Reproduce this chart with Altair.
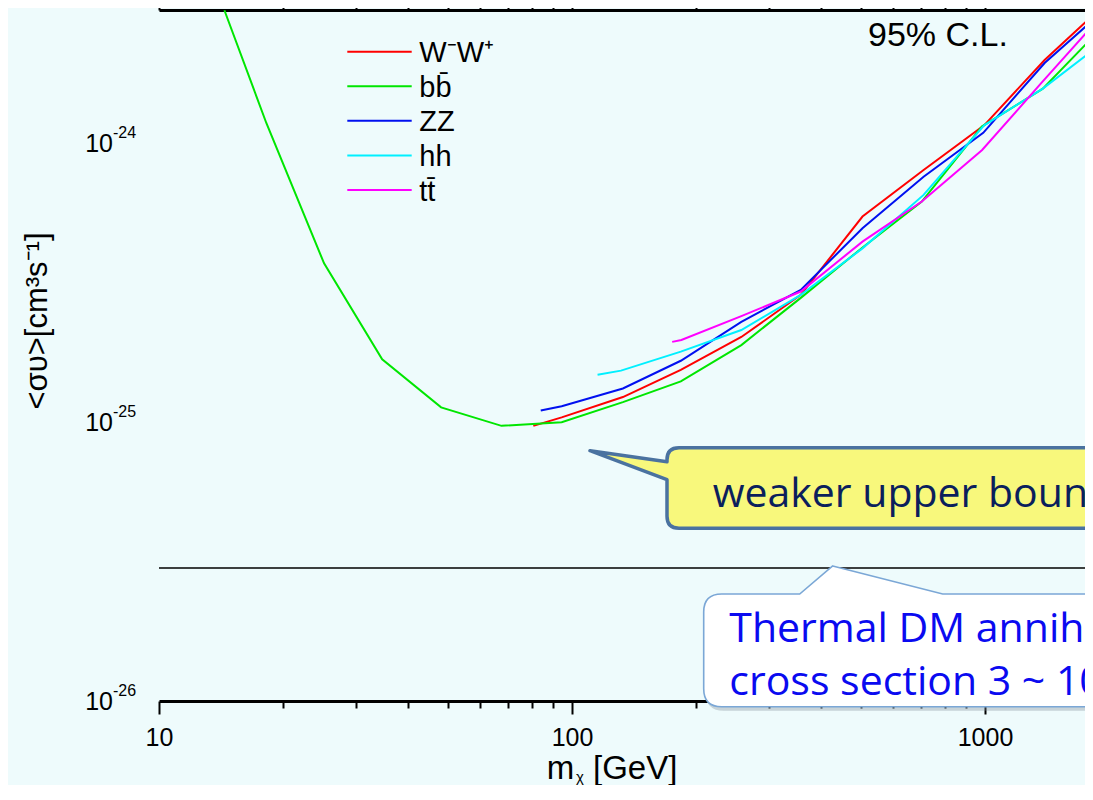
import altair as alt
import pandas as pd

# ---------------- data ----------------
series_names = ["W\u207bW\u207a", "bb\u0304", "ZZ", "hh", "tt\u0304"]
series_colors = ["#FF0000", "#00E600", "#0010F0", "#00F0FF", "#FF00FF"]

ww_m = [80.6, 94.4, 132.8, 183.4, 257, 358, 505, 710, 995, 1394, 1826]
ww_sv = [9.7e-26, 1.04e-25, 1.23e-25, 1.54e-25, 2.02e-25, 2.86e-25, 5.46e-25, 8.02e-25, 1.16e-24, 1.99e-24, 2.88e-24]

bb_m = [14.4, 18.2, 25.1, 34.7, 48.2, 67.5, 94.4, 132.8, 183.4, 257, 358, 507, 703, 984, 1380, 1826]
bb_sv = [3.0e-24, 1.18e-24, 3.71e-25, 1.68e-25, 1.13e-25, 9.7e-26, 1.0e-25, 1.18e-25, 1.40e-25, 1.89e-25,
         2.79e-25, 4.25e-25, 6.18e-25, 1.15e-24, 1.57e-24, 2.41e-24]

zz_m = [84.0, 94.4, 132.8, 183.4, 257, 358, 505, 710, 990, 1394, 1826]
zz_sv = [1.10e-25, 1.14e-25, 1.32e-25, 1.66e-25, 2.29e-25, 2.98e-25, 4.96e-25, 7.59e-25, 1.09e-24, 1.94e-24, 2.77e-24]

hh_m = [115.3, 131.4, 183.4, 257, 358, 505, 710, 995, 1380, 1826]
hh_sv = [1.48e-25, 1.53e-25, 1.79e-25, 2.14e-25, 2.86e-25, 4.20e-25, 6.53e-25, 1.16e-24, 1.57e-24, 2.16e-24]

tt_m = [174.8, 184, 257, 358, 505, 703, 984, 1366, 1826]
tt_sv = [1.94e-25, 1.97e-25, 2.40e-25, 2.94e-25, 4.44e-25, 6.18e-25, 9.46e-25, 1.64e-24, 2.65e-24]

thermal_sv = [3e-26]

x_domain = [10, 1746]
y_domain = [1e-26, 3.006e-24]

decade_vals = [1e-26, 1e-25, 1e-24]
decade_base = ["10", "10", "10"]
decade_exps = ["-26", "-25", "-24"]

x_ticks = [k * 10 ** e for e in (1, 2) for k in range(1, 10)] + [1000]
y_ticks = [k * 10.0 ** e for e in (-26, -25) for k in range(1, 10)] + [1e-24, 2e-24, 3e-24]

cl_text = ["95% C.L."]
yellow_text = ["weaker upper bound"]
white_text = ["Thermal DM annihilation\ncross section 3 ~ 10"]
y_title = ["<\u03c3\u03c5>[cm\u00b3s\u207b\u00b9]"]
x_title_m = ["m"]
x_title_sub = ["\u03c7"]
x_title_unit = ["[GeV]"]

# ---------------- build tables ----------------
rows = []
for name, ms, svs in zip(series_names, [ww_m, bb_m, zz_m, hh_m, tt_m], [ww_sv, bb_sv, zz_sv, hh_sv, tt_sv]):
    for m, s in zip(ms, svs):
        rows.append({"series": name, "m": m, "sv": s})
df = pd.DataFrame(rows)
dec_df = pd.DataFrame({"v": decade_vals, "b": decade_base, "t": decade_exps})
leg_df = pd.DataFrame({"series": series_names})

BG = "#EEFBFC"
FONT = "Liberation Sans"
CAL = "Open Sans"

xscale = alt.Scale(type="log", domain=x_domain, nice=False)
yscale = alt.Scale(type="log", domain=y_domain, nice=False)
cscale = alt.Scale(domain=series_names, range=series_colors)

major = "abs(log(datum.value)/LN10 - round(log(datum.value)/LN10)) < 0.001"

x_axis = alt.Axis(orient="bottom", values=x_ticks, title=None, format="d",
                  labelExpr=f"({major}) ? datum.label : ''",
                  labelFont=FONT, labelFontSize=25, labelColor="black",
                  labelPadding=11, labelFlush=False, labelOverlap=False, grid=False,
                  domainColor="black", domainWidth=3, tickColor="black", tickWidth=2,
                  tickSize={"condition": {"test": major, "value": 13}, "value": 7})
x_axis_top = alt.Axis(orient="top", values=x_ticks, title=None, labels=False, grid=False,
                      domainColor="black", domainWidth=3, tickColor="black", tickWidth=2,
                      tickSize={"condition": {"test": major, "value": 13}, "value": 7})
y_axis = alt.Axis(orient="left", values=y_ticks, title=None, labels=False, grid=False,
                  domainColor="black", domainWidth=3, tickColor="black", tickWidth=2,
                  tickSize={"condition": {"test": major, "value": 14}, "value": 8})

lines = alt.Chart(df).mark_line(strokeWidth=2).encode(
    x=alt.X("m:Q", scale=xscale, axis=x_axis),
    y=alt.Y("sv:Q", scale=yscale, axis=y_axis),
    color=alt.Color("series:N", scale=cscale, legend=None),
    detail="series:N",
)

top_axis_layer = alt.Chart(df).mark_point(opacity=0).encode(
    x=alt.X("m:Q", scale=xscale, axis=x_axis_top),
    y=alt.Y("sv:Q", scale=yscale, axis=None),
)

thermal = alt.Chart(pd.DataFrame({"sv": thermal_sv})).mark_rule(color="black", strokeWidth=1.6).encode(
    y=alt.Y("sv:Q", scale=yscale, axis=None)
)

# y tick labels 10^n, drawn at the decade positions through the y scale
ybase = alt.Chart(dec_df).mark_text(align="right", baseline="alphabetic", font=FONT, fontSize=25,
                                    color="black", dy=9).encode(
    x=alt.value(-46), y=alt.Y("v:Q", scale=yscale, axis=None), text="b:N"
)
yexp = alt.Chart(dec_df).mark_text(align="left", baseline="alphabetic", font=FONT, fontSize=16,
                                   color="black", dy=-5).encode(
    x=alt.value(-46), y=alt.Y("v:Q", scale=yscale, axis=None), text="t:N"
)

cl = alt.Chart(pd.DataFrame({"t": cl_text})).mark_text(
    align="left", baseline="alphabetic", font=FONT, fontSize=34, color="black").encode(
    x=alt.value(709), y=alt.value(36.3), text="t:N")

# yellow callout
yellow_path = ("M0,0 L77,11 L77,9 Q77,-3 89,-3 L720,-3 L720,77.6 L89,77.6 "
               "Q77,77.6 77,65.6 L77,29 Z")
yellow_box = alt.Chart(pd.DataFrame({"t": yellow_text})).mark_point(
    shape=yellow_path, size=4, filled=True, fill="#F8F87C", stroke="#4A72A0",
    strokeWidth=3.5, opacity=1, fillOpacity=1, strokeOpacity=1, strokeJoin="round").encode(
    x=alt.value(431), y=alt.value(440.7))
yellow_label = alt.Chart(pd.DataFrame({"t": yellow_text})).mark_text(
    align="left", baseline="alphabetic", font=CAL, fontSize=41, color="#0B1F5C").encode(
    x=alt.value(553.7), y=alt.value(496.7), text="t:N")

# white callout
white_path = ("M0,0 L110,28 L420,28 L420,140.7 L-111,140.7 Q-129,140.7 -129,122.7 "
              "L-129,46 Q-129,28 -111,28 L-33,28 Z")
white_shadow = alt.Chart(pd.DataFrame({"t": white_text})).mark_point(
    shape=white_path, size=4, filled=True, fill="#7F8A94", fillOpacity=0.35, strokeOpacity=0,
    opacity=1).encode(x=alt.value(675.7), y=alt.value(560))
white_box = alt.Chart(pd.DataFrame({"t": white_text})).mark_point(
    shape=white_path, size=4, filled=True, fill="white", stroke="#7BA7D6",
    strokeWidth=1.6, opacity=1, fillOpacity=1, strokeOpacity=1).encode(
    x=alt.value(673.7), y=alt.value(556))
white_label = alt.Chart(pd.DataFrame({"t": white_text})).mark_text(
    align="left", baseline="alphabetic", font=CAL, fontSize=41, color="#0A0AF0",
    lineBreak="\n", lineHeight=52.7).encode(
    x=alt.value(570.3), y=alt.value(632.3), text="t:N")

# axis titles
ytitle = alt.Chart(pd.DataFrame({"t": y_title})).mark_text(
    align="center", baseline="middle", font=FONT, fontSize=31, color="black", angle=270).encode(
    x=alt.value(-121), y=alt.value(311), text="t:N")
xt_m = alt.Chart(pd.DataFrame({"t": x_title_m})).mark_text(
    align="left", baseline="alphabetic", font=FONT, fontSize=33, color="black").encode(
    x=alt.value(387.7), y=alt.value(769), text="t:N")
xt_sub = alt.Chart(pd.DataFrame({"t": x_title_sub})).mark_text(
    align="left", baseline="alphabetic", font=FONT, fontSize=15, color="black").encode(
    x=alt.value(417), y=alt.value(772), text="t:N")
xt_unit = alt.Chart(pd.DataFrame({"t": x_title_unit})).mark_text(
    align="left", baseline="alphabetic", font=FONT, fontSize=33, color="black").encode(
    x=alt.value(434), y=alt.value(769), text="t:N")

inner = alt.layer(thermal, lines, top_axis_layer, ybase, yexp, cl,
                  yellow_box, yellow_label, white_shadow, white_box, white_label,
                  ytitle, xt_m, xt_sub, xt_unit)

# legend (manual, inside plot)
leg_y = alt.Y("series:N", scale=alt.Scale(type="point", domain=series_names, range=[41.7, 180], padding=0),
              axis=None)
leg_lines = alt.Chart(leg_df).mark_rule(strokeWidth=2).encode(
    x=alt.value(188.3), x2=alt.value(252.7), y=leg_y,
    color=alt.Color("series:N", scale=cscale, legend=None))
leg_text = alt.Chart(leg_df).mark_text(
    align="left", baseline="alphabetic", dy=10.5, font=FONT, fontSize=29, color="black").encode(
    x=alt.value(260.3), y=leg_y, text="series:N")

H = 777
chart = alt.layer(inner, leg_lines, leg_text).resolve_scale(y="independent").properties(
    width=926, height=691,
    autosize=alt.AutoSizeParams(type="none"),
    padding={"left": 151, "top": 2, "right": 0, "bottom": H - 2 - 691},
    background=BG,
).configure_view(stroke=None)

chart.save("out.html", embed_options={"renderer": "svg", "actions": False})
